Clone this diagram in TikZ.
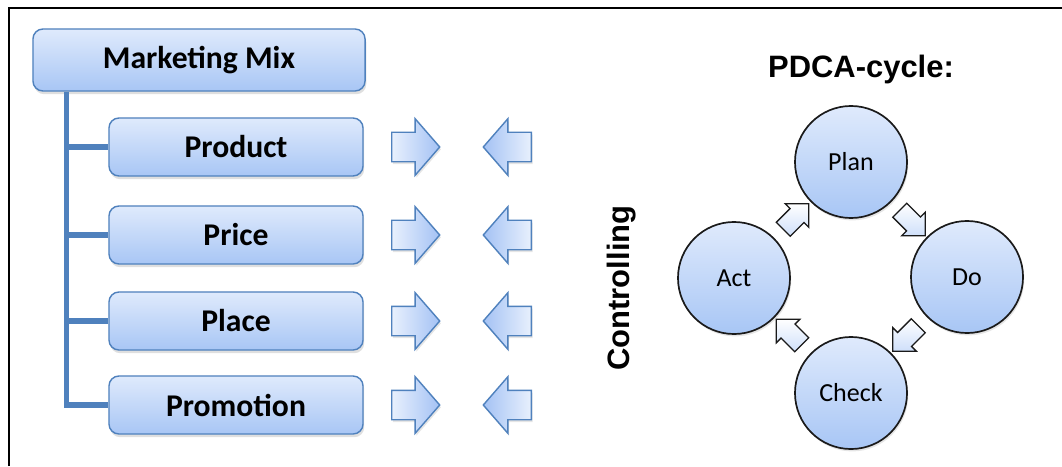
\documentclass[tikz,border=0pt]{standalone}
\usepackage{fontspec}
\setmainfont{Carlito}
\newfontfamily\arialfont{Liberation Sans}
\usetikzlibrary{positioning,calc,shapes.arrows,shadows}

\definecolor{mixtop}{HTML}{DFEAFC}
\definecolor{mixbot}{HTML}{A8C6F5}
\definecolor{mixline}{HTML}{4F81BD}
\definecolor{arrowlight}{HTML}{E8F0FD}
\definecolor{arrowdark}{HTML}{A4C2F4}
\definecolor{cycleedge}{HTML}{1A1A1A}

\tikzset{
  mixbox/.style={draw=mixline, line width=1pt, rounded corners=0.25cm,
    top color=mixtop, bottom color=mixbot,
    font=\bfseries\fontsize{22.5}{26}\selectfont,
    minimum width=6.35cm, minimum height=1.45cm,
    drop shadow={shadow xshift=0.03cm, shadow yshift=-0.08cm, opacity=0.25}},
  trunk/.style={draw=mixline, line width=3.6pt},
  bigarrow/.style={single arrow, draw=mixline, line width=1pt,
    minimum height=1.2cm, inner xsep=0pt, inner ysep=0.35cm,
    single arrow head extend=0.34cm, single arrow tip angle=98,
    drop shadow={shadow xshift=0.03cm, shadow yshift=-0.06cm, opacity=0.2}},
  phase/.style={circle, draw=cycleedge, line width=1.2pt,
    top color=mixtop, bottom color=mixbot, minimum size=2.8cm,
    font=\fontsize{18.5}{22}\selectfont,
    drop shadow={shadow xshift=0.03cm, shadow yshift=-0.06cm, opacity=0.2}},
  cyclearrow/.style={single arrow, draw=cycleedge, line width=0.9pt,
    top color=white, bottom color=mixtop!70!mixbot,
    minimum height=0.9cm, inner xsep=0pt, inner ysep=0.23cm,
    single arrow head extend=0.17cm, single arrow tip angle=90},
  heading/.style={font=\arialfont\bfseries\fontsize{22}{26}\selectfont}
}

\begin{document}
\begin{tikzpicture}[x=0.025cm, y=-0.025cm]
\useasboundingbox (0,0) rectangle (1062,466);
\fill[white] (0,0) rectangle (1062,466);
% frame
\draw[line width=1.4pt] (9,466) -- (9,8) -- (1062,8);

% marketing mix tree
\node[mixbox, minimum width=8.3cm, minimum height=1.55cm] (mix) at (199,60) {Marketing Mix};
\foreach \name/\txt/\y in {product/Product/147, price/Price/235, place/Place/321, promotion/Promotion/405}{
  \node[mixbox] (\name) at (236,\y) {\txt};
  \node[bigarrow, left color=arrowlight, right color=arrowdark, anchor=tail] (\name-out) at (391,\y) {};
  \node[bigarrow, shape border rotate=180, left color=arrowdark, right color=arrowlight, anchor=tail] (\name-in) at (532,\y) {};
}
\draw[trunk] (mix.south west) ++(34,0) coordinate (trunktop) |- (promotion.west);
\foreach \name in {product, price, place}
  \draw[trunk] (trunktop |- \name.west) -- (\name.west);

% controlling
\node[heading, rotate=90] (ctrl) at (622,288) {Controlling};

% pdca cycle
\node[heading] (pdca) at (861,70) {PDCA-cycle:};
\node[phase] (plan) at (851,162) {Plan};
\node[phase] (do) at (967,277) {Do};
\node[phase] (check) at (851,393) {Check};
\node[phase] (act) at (734,278) {Act};
\node[cyclearrow, rotate=45] (actplan) at ($(act)!0.5!(plan)$) {};
\node[cyclearrow, rotate=-45] (plando) at ($(plan)!0.5!(do)$) {};
\node[cyclearrow, rotate=-135] (docheck) at ($(do)!0.5!(check)$) {};
\node[cyclearrow, rotate=135] (checkact) at ($(check)!0.5!(act)$) {};
\end{tikzpicture}
\end{document}
